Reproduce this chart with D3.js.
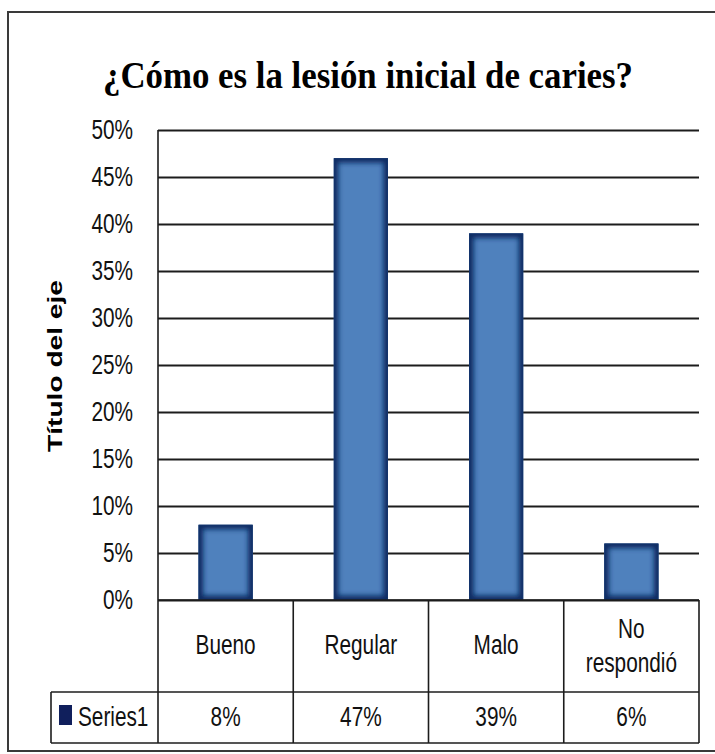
<!DOCTYPE html>
<html><head><meta charset="utf-8">
<script src="https://cdn.jsdelivr.net/npm/d3@7"></script>
<style>body{margin:0;background:#fff}</style>
</head><body>
<script>
// data
const categories = ["Bueno", "Regular", "Malo", "No respondió"];
const values = [0.08, 0.47, 0.39, 0.06];
const valueLabels = ["8%", "47%", "39%", "6%"];
const yTicks = [0, 0.05, 0.10, 0.15, 0.20, 0.25, 0.30, 0.35, 0.40, 0.45, 0.50];
const seriesName = "Series1";
const chartTitle = "¿Cómo es la lesión inicial de caries?";
const axisTitle = "Título del eje";

const W = 715, H = 754;
const plotLeft = 158, plotRight = 699, plotTop = 130, plotBottom = 600;
const row1 = 692, row2 = 743, legendLeft = 51;
const sx = 0.77; // squeeze of the sans labels
const sans = "'Liberation Sans', Arial, sans-serif";

const svg = d3.select("body").append("svg")
  .attr("width", W).attr("height", H);

const defs = svg.append("defs");
defs.append("filter").attr("id", "glow")
  .attr("x", "-20%").attr("y", "-20%").attr("width", "140%").attr("height", "140%")
  .append("feGaussianBlur").attr("stdDeviation", 2.6);

// outer frame
svg.append("rect")
  .attr("x", 8).attr("y", 12).attr("width", 730).attr("height", 739)
  .attr("fill", "#fff").attr("stroke", "#3a3a3a").attr("stroke-width", 2);

var y = d3.scaleLinear().domain([0, 0.5]).range([plotBottom, plotTop]);
var x = d3.scaleBand().domain(categories).range([plotLeft, plotRight])
  .paddingInner(0.6).paddingOuter(0.3);
var cell = d3.scaleBand().domain(categories).range([plotLeft, plotRight]);

// grid + tick labels
var yAxis = d3.axisLeft(y)
  .tickValues(yTicks)
  .tickSize(-(plotRight - plotLeft))
  .tickPadding(25)
  .tickFormat(d3.format(".0%"));

var gy = svg.append("g").attr("transform", "translate(" + plotLeft + ",0)").call(yAxis);
gy.select(".domain").remove();
gy.selectAll(".tick line").attr("stroke", "#1c1c1c").attr("stroke-width", 2);
gy.selectAll(".tick text")
  .attr("font-family", sans).attr("font-size", 27).attr("fill", "#111")
  .attr("x", -25 / sx).attr("transform", "scale(" + sx + ",1)");

// bars
var bars = svg.append("g").selectAll("g").data(categories).enter().append("g");
bars.each(function(c, i) {
  var g = d3.select(this);
  var bx = x(c), by = y(values[i]), bw = x.bandwidth(), bh = y(0) - y(values[i]);
  defs.append("clipPath").attr("id", "clip" + i)
    .append("rect").attr("x", bx).attr("y", by).attr("width", bw).attr("height", bh);
  g.append("rect").attr("x", bx).attr("y", by).attr("width", bw).attr("height", bh)
    .attr("fill", "#4f81bd");
  g.append("rect").attr("x", bx).attr("y", by).attr("width", bw).attr("height", bh)
    .attr("fill", "none").attr("stroke", "#0b2a62").attr("stroke-width", 9)
    .attr("filter", "url(#glow)").attr("clip-path", "url(#clip" + i + ")");
  g.append("rect").attr("x", bx + 0.5).attr("y", by + 0.5).attr("width", bw - 1).attr("height", bh - 1)
    .attr("fill", "none").attr("stroke", "#14346c").attr("stroke-width", 1);
});

// table lines
var lines = svg.append("g").attr("stroke", "#1c1c1c").attr("stroke-width", 1.6);
lines.append("line").attr("x1", plotLeft).attr("x2", plotLeft).attr("y1", plotTop).attr("y2", row2);
lines.append("line").attr("x1", plotLeft).attr("x2", plotRight).attr("y1", plotBottom).attr("y2", plotBottom);
lines.append("line").attr("x1", legendLeft).attr("x2", plotRight).attr("y1", row1).attr("y2", row1);
lines.append("line").attr("x1", legendLeft).attr("x2", plotRight).attr("y1", row2).attr("y2", row2);
lines.append("line").attr("x1", legendLeft).attr("x2", legendLeft).attr("y1", row1).attr("y2", row2);
categories.forEach(function(c) {
  var xr = cell(c) + cell.bandwidth();
  lines.append("line").attr("x1", xr).attr("x2", xr).attr("y1", plotBottom).attr("y2", row2);
});

// category labels
var catText = svg.append("g").attr("font-family", sans).attr("font-size", 27)
  .attr("fill", "#111").attr("text-anchor", "middle");
categories.forEach(function(c) {
  var cx = cell(c) + cell.bandwidth() / 2;
  var words = c.split(" ");
  var t = catText.append("text").attr("transform", "scale(" + sx + ",1)");
  if (words.length > 1) {
    t.append("tspan").attr("x", cx / sx).attr("y", 638).text(words[0]);
    t.append("tspan").attr("x", cx / sx).attr("y", 672).text(words.slice(1).join(" "));
  } else {
    t.attr("x", cx / sx).attr("y", 654).text(c);
  }
});

// value row
categories.forEach(function(c, i) {
  var cx = cell(c) + cell.bandwidth() / 2;
  catText.append("text").attr("transform", "scale(" + sx + ",1)")
    .attr("x", cx / sx).attr("y", 726).text(valueLabels[i]);
});

// legend key
svg.append("rect").attr("x", 59).attr("y", 705).attr("width", 13).attr("height", 20)
  .attr("fill", "#101f5c");
svg.append("text").attr("font-family", sans).attr("font-size", 27).attr("fill", "#111")
  .attr("transform", "scale(" + sx + ",1)")
  .attr("x", 78 / sx).attr("y", 726).text(seriesName);

// titles
svg.append("text")
  .attr("x", 368).attr("y", 88)
  .attr("text-anchor", "middle")
  .attr("font-family", "'Liberation Serif', 'Times New Roman', serif")
  .attr("font-weight", "bold").attr("font-size", 37)
  .attr("textLength", 530).attr("lengthAdjust", "spacingAndGlyphs")
  .text(chartTitle);

svg.append("text")
  .attr("transform", "translate(62,366) rotate(-90)")
  .attr("text-anchor", "middle")
  .attr("font-family", sans).attr("font-weight", "bold").attr("font-size", 21)
  .attr("textLength", 172).attr("lengthAdjust", "spacingAndGlyphs")
  .text(axisTitle);
</script>
</body></html>
